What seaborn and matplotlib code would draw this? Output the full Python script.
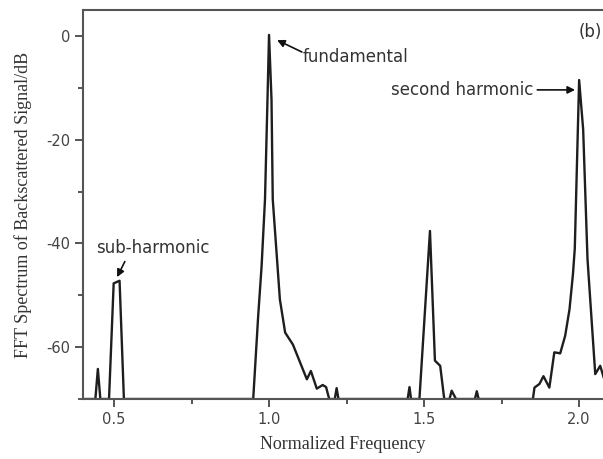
import matplotlib
matplotlib.use("Agg")
import matplotlib.pyplot as plt
import seaborn as sns
import pandas as pd
from matplotlib.ticker import MultipleLocator

# normalized frequency vs FFT level (dB)
freq = [0.400, 0.440, 0.448, 0.456, 0.484, 0.499, 0.518, 0.532,
        0.949, 0.965, 0.976, 0.987, 0.995, 1.000, 1.008, 1.012, 1.035,
        1.052, 1.077, 1.122, 1.135, 1.154, 1.173, 1.184, 1.194,
        1.212, 1.218, 1.224, 1.447, 1.453, 1.458,
        1.485, 1.519, 1.535, 1.552, 1.565, 1.582, 1.589, 1.603,
        1.664, 1.670, 1.676, 1.851, 1.856, 1.872, 1.885, 1.904,
        1.920, 1.939, 1.955, 1.969, 1.980, 1.986, 2.000, 2.013,
        2.027, 2.052, 2.068, 2.085]
level = [-70, -70, -64.2, -70, -70, -47.7, -47.2, -70,
         -70, -54.0, -44.4, -31.5, -12.3, 0.2, -12.3, -31.5, -50.8,
         -57.2, -59.5, -66.2, -64.6, -68.0, -67.3, -67.7, -70,
         -70, -67.9, -70, -70, -67.7, -70,
         -70, -37.6, -62.6, -63.6, -70, -70, -68.4, -70,
         -70, -68.5, -70, -70, -67.8, -67.1, -65.6, -67.8,
         -61.0, -61.2, -57.8, -52.7, -46.0, -41.0, -8.5, -18.0,
         -43.0, -65.2, -63.6, -67.0]

x_ticks = [0.5, 1.0, 1.5, 2.0]
y_ticks = [0, -20, -40, -60]

df = pd.DataFrame({"freq": freq, "level": level})

sns.set_style("ticks")
plt.rcParams["font.family"] = ["DejaVu Sans"]

fig = plt.figure(figsize=(6.03, 4.59), dpi=100)
ax = fig.add_axes([0.1376, 0.1307, 0.8624, 0.8475])

sns.lineplot(data=df, x="freq", y="level", ax=ax, color="#1e1e1e",
             linewidth=1.7, estimator=None, sort=False)

ax.set_xlim(0.4, 2.077)
ax.set_ylim(-70, 5)
ax.set_xticks(x_ticks)
ax.set_yticks(y_ticks)
ax.xaxis.set_minor_locator(MultipleLocator(0.25))
ax.yaxis.set_minor_locator(MultipleLocator(10))
ax.set_xticklabels(["0.5", "1.0", "1.5", "2.0"])
ax.set_yticklabels(["0", "-20", "-40", "-60"])

for side in ["left", "top", "bottom"]:
    ax.spines[side].set_color("#555555")
    ax.spines[side].set_linewidth(1.5)
ax.spines["right"].set_visible(False)

ax.tick_params(which="major", direction="out", length=6, width=1.4,
               color="#555555", labelsize=10.5, labelcolor="#444444", pad=3)
ax.tick_params(which="minor", direction="out", length=3.5, width=1.4,
               color="#555555")

ax.set_xlabel("Normalized Frequency", family="Liberation Serif",
              fontsize=13, color="#333333", labelpad=7)
ax.set_ylabel("FFT Spectrum of Backscattered Signal/dB",
              family="Liberation Serif", fontsize=13, color="#333333",
              labelpad=10)

arrow = dict(arrowstyle="-|>", color="#111111", lw=1.2,
             mutation_scale=11, shrinkA=0, shrinkB=0)
txt = dict(fontsize=12, color="#333333")

ax.annotate("", xy=(1.026, -0.8), xytext=(1.106, -3.1), arrowprops=arrow)
ax.text(1.108, -4.0, "fundamental", ha="left", va="center", **txt)

ax.annotate("", xy=(1.987, -10.4), xytext=(1.865, -10.4), arrowprops=arrow)
ax.text(1.852, -10.4, "second harmonic", ha="right", va="center", **txt)

ax.annotate("", xy=(0.510, -46.5), xytext=(0.535, -43.5), arrowprops=arrow)
ax.text(0.624, -40.8, "sub-harmonic", ha="center", va="center", **txt)

fig.text(0.998, 1 - 32 / 459, "(b)", ha="right", va="center", **txt)

fig.savefig("out.png", dpi=100)
